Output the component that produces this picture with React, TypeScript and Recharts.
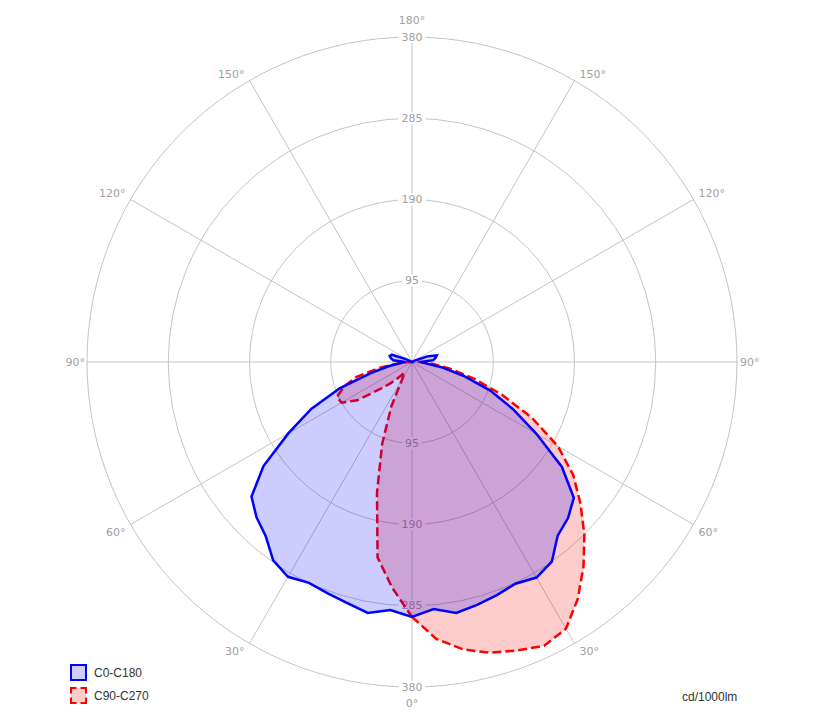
import { RadarChart, Radar, PolarGrid, PolarAngleAxis, PolarRadiusAxis, Legend } from 'recharts'

// gamma angles of one half plane, bottom (0) to top (180)
const gammas = [0, 5, 10, 15, 20, 25, 30, 35, 40, 45, 50, 55, 60, 65, 70, 75, 80, 85, 90,
  95, 100, 105, 110, 115, 120, 125, 130, 135, 140, 145, 150, 155, 160, 165, 170, 175, 180]

// cd/1000lm
const c0 = [298, 290, 298, 294, 290, 286, 291, 285, 265, 258, 247, 214, 168, 130, 97, 62, 35, 15, 10,
  25, 28, 30, 20, 5, 0, 0, 0, 0, 0, 0, 0, 0, 0, 0, 0, 0, 0]
const c180 = [298, 291, 298, 292, 288, 285, 290, 283, 266, 257, 245, 212, 167, 130, 90, 50, 27, 12, 8,
  22, 25, 27, 25, 8, 0, 0, 0, 0, 0, 0, 0, 0, 0, 0, 0, 0, 0]
const c90 = [298, 325, 341, 352, 359, 366, 360, 338, 312, 285, 257, 230, 197, 155, 112, 75, 45, 25, 10,
  3, 0, 0, 0, 0, 0, 0, 0, 0, 0, 0, 0, 0, 0, 0, 0, 0, 0]
const c270 = [298, 265, 232, 158, 102, 57, 22, 15, 22, 35, 50, 78, 95, 97, 85, 67, 38, 15, 5,
  0, 0, 0, 0, 0, 0, 0, 0, 0, 0, 0, 0, 0, 0, 0, 0, 0, 0]

const ringTicks = [95, 190, 285, 380]
const spokes = [0, 30, 60, 90, 120, 150, 180, 210, 240, 270, 300, 330]
const seriesNames = ['C0-C180', 'C90-C270']

// right half first (counter-clockwise from the bottom), then the left half back down
const data = [
  ...gammas.map((g, k) => ({ a: g, blue: c0[k], red: c90[k] })),
  ...gammas.slice(1, -1).reverse().map((g) => {
    const k = gammas.indexOf(g)
    return { a: 360 - g, blue: c180[k], red: c270[k] }
  }),
]

const W = 809
const H = 699
const CX = 404
const CY = 354
const R = 325
const TICK = 8
const axisFont = 'DejaVu Sans'
const textFont = 'Liberation Sans, Arial, sans-serif'

function AngleTick(props: any) {
  const { x, y, payload } = props
  const coord = payload.coordinate
  const p = Math.round((((coord + 90) % 360) + 360) % 360)
  if (p % 30 !== 0) return null
  const g = p <= 180 ? p : 360 - p
  const rad = (coord * Math.PI) / 180
  const h = Math.cos(rad)
  const v = -Math.sin(rad)
  // back from the tick end to the ring
  const bx = x - TICK * h
  const by = y - TICK * v
  let anchor = 'middle'
  let dx = 0
  let dy = 0
  if (Math.abs(h) < 0.01) {
    dy = v > 0 ? 16 : -17
  } else {
    anchor = h > 0 ? 'start' : 'end'
    if (Math.abs(v) < 0.01) {
      dx = h > 0 ? 3 : -2
    } else {
      dx = h > 0 ? 5 : -5
      dy = v > 0 ? 8 : -6
    }
  }
  return (
    <text x={bx + dx} y={by + dy} textAnchor={anchor} dominantBaseline="central"
      fill="#a0a0a0" fontSize={11} fontFamily={axisFont}>
      {g}°
    </text>
  )
}

function RadiusTick(props: any) {
  const { x, y, payload } = props
  if (!payload.value) return null
  const label = String(payload.value)
  const w = label.length * 7 + 6
  return (
    <g>
      <rect x={x - w / 2} y={y - 6} width={w} height={12} fill="#ffffff" />
      <text x={x} y={y} textAnchor="middle" dominantBaseline="central"
        fill="#a0a0a0" fontSize={11} fontFamily={axisFont}>
        {label}
      </text>
    </g>
  )
}

function LegendBox({ color, fill, dashed }: { color: string; fill: string; dashed: boolean }) {
  return (
    <svg width={17} height={17} style={{ display: 'block' }}>
      <rect x={1} y={1} width={15} height={15} fill={fill} stroke={color} strokeWidth={2}
        strokeDasharray={dashed ? '5.5 4 11 4 11 4 11 4 5.5' : undefined} />
    </svg>
  )
}

function LegendContent(props: any) {
  const items = (props.payload || [])
    .filter((p: any) => seriesNames.includes(p.value))
    .sort((p: any, q: any) => seriesNames.indexOf(p.value) - seriesNames.indexOf(q.value))
  return (
    <div style={{ fontFamily: textFont, fontSize: 12, color: '#333' }}>
      {items.map((e: any) => {
        const dashed = e.value === 'C90-C270'
        return (
          <div key={e.value} style={{ display: 'flex', alignItems: 'center', height: 23 }}>
            <LegendBox color={e.color} fill={dashed ? '#ffcccc' : '#ccccff'} dashed={dashed} />
            <span style={{ marginLeft: 7 }}>{e.value}</span>
          </div>
        )
      })}
    </div>
  )
}

export default function App() {
  return (
    <div style={{ position: 'relative', width: W, height: H }}>
      <RadarChart width={W} height={H + 8} data={data} cx={CX} cy={CY} outerRadius={R}
        startAngle={-95} endAngle={265} margin={{ top: 0, right: 0, bottom: 0, left: 0 }}>
        <PolarGrid gridType="circle" stroke="#c4c4c4" polarAngles={spokes.map((s) => s - 90)} />
        <PolarAngleAxis dataKey="a" axisLine={false} tickLine={false} tickSize={TICK} tick={AngleTick} />
        <PolarRadiusAxis angle={90} type="number" domain={[0, 380]} ticks={ringTicks} tickCount={5}
          axisLine={false} tickLine={false} tick={RadiusTick} zIndex={50} />
        <PolarRadiusAxis radiusAxisId="down" angle={-90} type="number" domain={[0, 380]} ticks={ringTicks}
          tickCount={5} axisLine={false} tickLine={false} tick={RadiusTick} zIndex={50} />
        <Radar radiusAxisId="down" dataKey="blue" stroke="none" fill="none" legendType="none"
          isAnimationActive={false} />
        <Radar name="C90-C270" dataKey="red" stroke="#ff0000" strokeWidth={2.5} strokeDasharray="9 4"
          fill="#ff0000" fillOpacity={0.2} isAnimationActive={false} />
        <Radar name="C0-C180" dataKey="blue" stroke="#0000ff" strokeWidth={2.5}
          fill="#0000ff" fillOpacity={0.2} isAnimationActive={false} />
        <Legend layout="vertical" align="center" verticalAlign="middle"
          wrapperStyle={{ left: 62, top: 653, width: 140 }} content={LegendContent} />
      </RadarChart>
      <div style={{ position: 'absolute', left: 674, top: 682, fontFamily: textFont, fontSize: 12,
        lineHeight: '14px', color: '#333' }}>
        cd/1000lm
      </div>
    </div>
  )
}
